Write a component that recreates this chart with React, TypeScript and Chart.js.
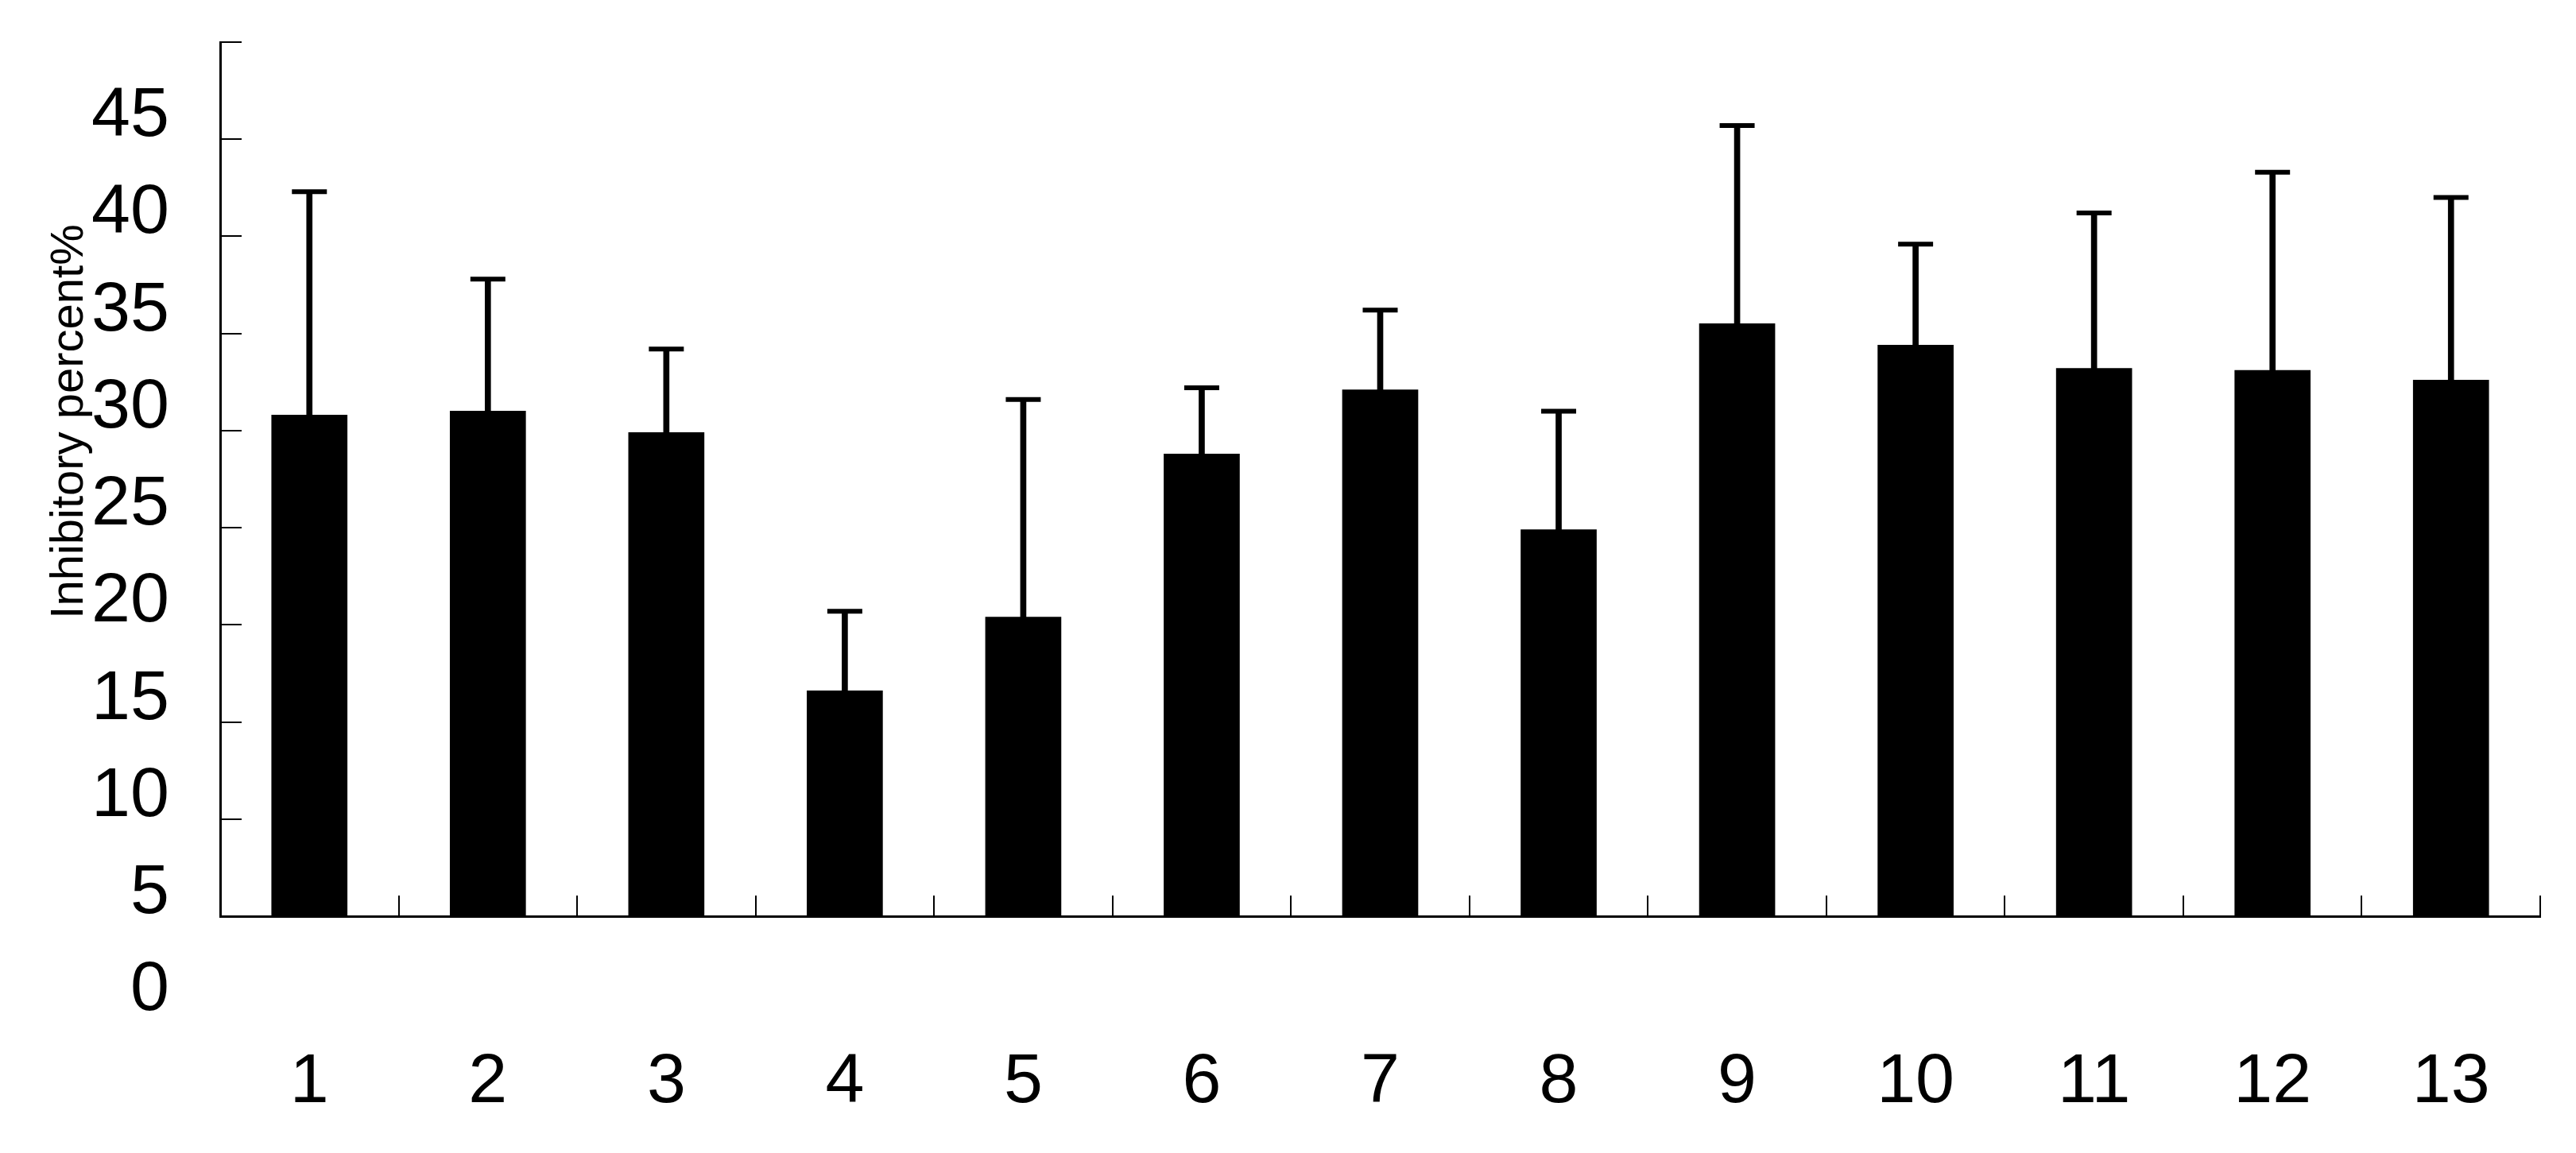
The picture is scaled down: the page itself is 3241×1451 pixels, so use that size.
import { useEffect, useRef } from "react";
import { Chart, registerables } from "chart.js";

Chart.register(...registerables);

const categories = ["1", "2", "3", "4", "5", "6", "7", "8", "9", "10", "11", "12", "13"];
const meanValues = [25.8, 26.0, 24.9, 11.6, 15.4, 23.8, 27.1, 19.9, 30.5, 29.4, 28.2, 28.1, 27.6];
const errorValues = [11.5, 6.8, 4.3, 4.1, 11.2, 3.4, 4.1, 6.1, 10.2, 5.2, 8.0, 10.2, 9.4];
const yTickValues = [0, 5, 10, 15, 20, 25, 30, 35, 40, 45];
const yAxisTitle = "Inhibitory percent%";

const FONT = "'Liberation Sans', Arial, sans-serif";

export default function App() {
  const ref = useRef<HTMLCanvasElement>(null);

  useEffect(() => {
    const errTop = meanValues.map((m, i) => m + errorValues[i]);
    const chart = new Chart(ref.current as HTMLCanvasElement, {
      type: "bar",
      data: {
        labels: categories,
        datasets: [
          {
            type: "bar",
            data: meanValues,
            backgroundColor: "#000",
            barThickness: 95,
            grouped: false,
            order: 3,
          } as any,
          {
            type: "bar",
            data: meanValues.map((m, i) => [m, errTop[i]]),
            backgroundColor: "#000",
            barThickness: 7,
            grouped: false,
            order: 2,
          } as any,
          {
            type: "line",
            data: errTop,
            showLine: false,
            pointStyle: "line",
            pointRadius: 22,
            pointHoverRadius: 22,
            pointBorderWidth: 6,
            borderColor: "#000",
            pointBorderColor: "#000",
            backgroundColor: "#000",
            order: 1,
          } as any,
        ],
      },
      options: {
        responsive: false,
        animation: false,
        layout: { padding: { left: 0, top: 45, right: 37, bottom: 0 } },
        plugins: { legend: { display: false }, tooltip: { enabled: false } },
        scales: {
          x: {
            type: "category",
            offset: true,
            border: { display: true, color: "#000", width: 3 },
            grid: {
              display: true,
              offset: true,
              drawOnChartArea: false,
              drawTicks: true,
              tickLength: -26,
              color: "#000",
              lineWidth: 2,
            },
            ticks: {
              color: "#000",
              font: { family: FONT, size: 88 },
              padding: 183,
              maxRotation: 0,
              autoSkip: false,
            },
            afterFit: (s: any) => {
              s.height = 290;
              s.paddingLeft = 0;
              s.paddingRight = 0;
            },
          },
          y: {
            type: "linear",
            min: 0,
            max: 45,
            afterBuildTicks: (s: any) => {
              s.ticks = yTickValues.map((v) => ({ value: v }));
            },
            border: { display: true, color: "#000", width: 3 },
            grid: {
              drawOnChartArea: false,
              drawTicks: true,
              tickLength: -27,
              color: "#000",
              lineWidth: 2,
            },
            ticks: {
              color: "#000",
              font: { family: FONT, size: 88 },
              padding: 91,
              labelOffset: 94,
            },
            title: {
              display: true,
              text: "         " + yAxisTitle,
              color: "#000",
              font: { family: FONT, size: 58 },
              padding: { top: 45, bottom: 0 },
            },
            afterFit: (s: any) => {
              s.width = 269;
              s.paddingTop = 0;
              s.paddingBottom = 0;
            },
          },
        },
      } as any,
    });
    return () => chart.destroy();
  }, []);

  return (
    <canvas
      ref={ref}
      width={3225}
      height={1435}
      style={{ display: "block", width: 3225, height: 1435 }}
    />
  );
}
